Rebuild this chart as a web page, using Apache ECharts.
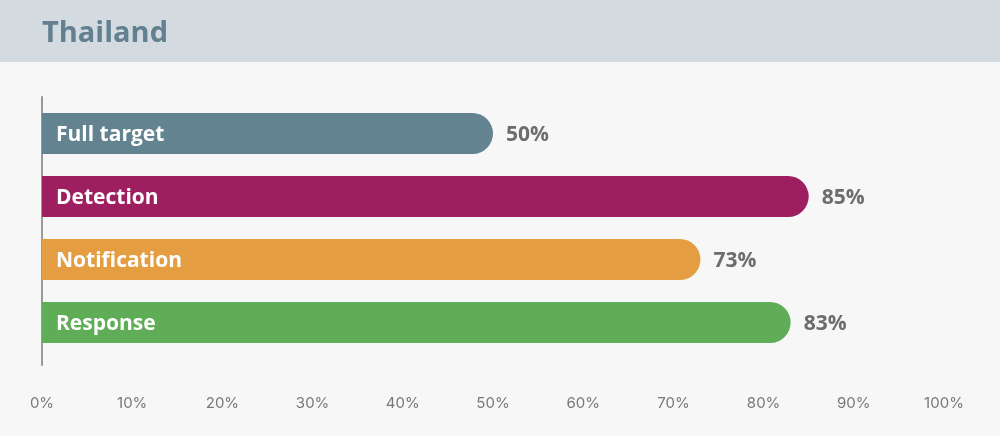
<!DOCTYPE html>
<html>
<head>
    <meta charset="utf-8">
    <title>Thailand</title>
    <script src="https://cdn.jsdelivr.net/npm/echarts@6/dist/echarts.min.js"></script>
    <style>
        html, body { margin: 0; padding: 0; background: #f7f7f7; }
        #main { width: 1000px; height: 436px; }
    </style>
</head>
<body>
    <div id="main"></div>
    <script type="text/javascript">
// data
var categories = ['Full target', 'Detection', 'Notification', 'Response'];
var values = [50, 85, 73, 83];
var colors = ['#62838f', '#9e1f5f', '#e59d42', '#5fad56'];
var tickValues = [0, 10, 20, 30, 40, 50, 60, 70, 80, 90, 100];

var myChart = echarts.init(document.getElementById('main'));

var option = {
    backgroundColor: '#f7f7f7',
    animation: false,
    graphic: [{
        type: 'rect',
        left: 0, top: 0,
        shape: { width: 1000, height: 62 },
        style: { fill: '#d3dae0' }
    }],
    title: {
        text: 'Thailand',
        left: 37, top: 14,
        textStyle: { fontFamily: 'Open Sans', fontWeight: 700, fontSize: 29, color: '#62808f' }
    },
    grid: [
        { left: 42, right: 56, top: 102, height: 252 },
        // only used to draw the longer vertical axis line
        { left: 42, right: 56, top: 97, height: 268 }
    ],
    xAxis: [{
        type: 'value',
        gridIndex: 0,
        min: 0, max: 100, interval: 10,
        axisLine: { show: false },
        axisTick: { show: false },
        splitLine: { show: false },
        axisLabel: {
            margin: 42,
            formatter: '{value}%',
            color: '#777',
            fontFamily: 'Inter',
            fontSize: 15
        }
    }, {
        type: 'value', gridIndex: 1, min: 0, max: 100, show: false
    }],
    yAxis: [{
        type: 'category',
        gridIndex: 0,
        data: categories,
        inverse: true,
        axisLine: { show: false },
        axisTick: { show: false },
        axisLabel: { show: false }
    }, {
        type: 'category',
        gridIndex: 1,
        data: [''],
        axisLine: { show: true, lineStyle: { color: '#9a9a9a', width: 2 } },
        axisTick: { show: false },
        axisLabel: { show: false }
    }],
    series: [{
        type: 'bar',
        xAxisIndex: 0, yAxisIndex: 0,
        barWidth: 41,
        data: values.map(function (v, i) {
            return { value: v, itemStyle: { color: colors[i], borderRadius: [0, 21, 21, 0] } };
        }),
        label: {
            show: true,
            position: 'right',
            distance: 13,
            offset: [0, 2],
            formatter: '{c}%',
            color: '#6d6d6d',
            fontFamily: 'Open Sans',
            fontWeight: 700,
            fontSize: 21
        }
    }, {
        // category names drawn inside the bars
        type: 'bar',
        xAxisIndex: 0, yAxisIndex: 0,
        barWidth: 41,
        barGap: '-100%',
        silent: true,
        itemStyle: { color: 'transparent' },
        data: values,
        label: {
            show: true,
            position: 'insideLeft',
            distance: 14,
            offset: [0, 2],
            formatter: function (p) { return categories[p.dataIndex]; },
            color: '#ffffff',
            fontFamily: 'Open Sans',
            fontWeight: 700,
            fontSize: 21
        }
    }]
};

myChart.setOption(option);
    </script>
</body>
</html>
